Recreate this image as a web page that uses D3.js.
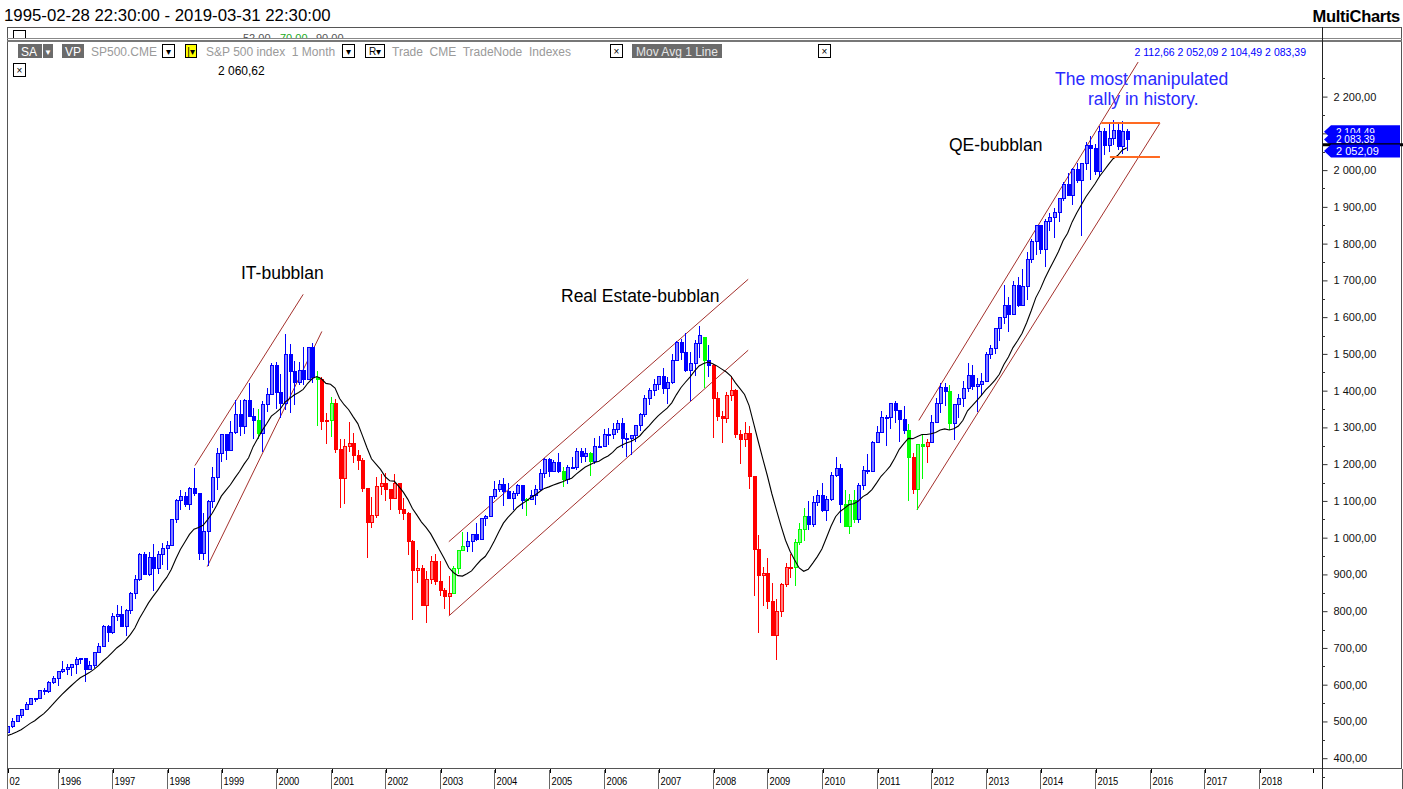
<!DOCTYPE html>
<html lang="en">
<head>
<meta charset="UTF-8">
<title>S&amp;P 500 index 1 Month</title>
<script src="https://cdnjs.cloudflare.com/ajax/libs/d3/7.8.5/d3.min.js"></script>
<style>
  body { margin: 0; background: #fff; }
  svg { display: block; font-family: "Liberation Sans", Arial, sans-serif; }
</style>
</head>
<body>
<svg width="1403" height="789" id="mainsvg"></svg>
<script>
// monthly bars, month index counted from 1996-01 (first bar 1995-02 = -11, last 2015-08 = 235)
const firstMonth = -11;
const opens = [
  470, 487, 501, 515, 533, 545, 562, 562, 584, 582, 605,
  616, 636, 640, 646, 654, 669, 671, 640, 652, 687, 705, 757,
  741, 786, 791, 757, 801, 848, 885, 954, 899, 947, 915, 955,
  970, 980, 1049, 1102, 1112, 1091, 1134, 1121, 957, 1017, 1099, 1164,
  1229, 1280, 1238, 1286, 1335, 1302, 1373, 1329, 1320, 1283, 1363, 1389,
  1469, 1394, 1366, 1499, 1452, 1421, 1455, 1431, 1518, 1437, 1429, 1315,
  1320, 1366, 1240, 1160, 1249, 1256, 1224, 1211, 1134, 1041, 1060, 1139,
  1148, 1130, 1107, 1147, 1077, 1067, 990, 912, 916, 815, 886, 936,
  880, 856, 841, 848, 917, 964, 975, 990, 1008, 996, 1051, 1058,
  1112, 1131, 1145, 1126, 1107, 1121, 1141, 1102, 1104, 1115, 1130, 1174,
  1212, 1181, 1204, 1181, 1157, 1192, 1191, 1234, 1220, 1229, 1207, 1249,
  1248, 1280, 1281, 1295, 1311, 1270, 1270, 1277, 1304, 1336, 1378, 1401,
  1418, 1438, 1407, 1421, 1482, 1531, 1503, 1455, 1474, 1527, 1545, 1481,
  1468, 1379, 1331, 1323, 1386, 1400, 1280, 1267, 1283, 1166, 969, 896,
  903, 826, 735, 798, 873, 919, 919, 987, 1021, 1057, 1036, 1096,
  1115, 1074, 1104, 1169, 1187, 1089, 1031, 1102, 1049, 1141, 1183, 1181,
  1258, 1286, 1327, 1326, 1364, 1345, 1321, 1292, 1219, 1131, 1253, 1247,
  1258, 1312, 1366, 1408, 1398, 1310, 1362, 1379, 1407, 1441, 1412, 1416,
  1426, 1498, 1515, 1569, 1598, 1631, 1606, 1686, 1633, 1682, 1757, 1806,
  1848, 1783, 1859, 1872, 1884, 1924, 1960, 1931, 2003, 1972, 2018, 2068,
  2059, 1995, 2105, 2068, 2086, 2107, 2063, 2104.49
];
const highs = [
  489, 508, 515, 534, 553, 564, 565, 586, 590, 609, 623,
  636, 664, 656, 656, 674, 673, 673, 665, 690, 714, 762, 762,
  795, 818, 814, 805, 851, 898, 957, 961, 961, 983, 964, 986,
  992, 1050, 1106, 1131, 1123, 1139, 1190, 1122, 1066, 1103, 1193, 1245,
  1280, 1282, 1317, 1375, 1375, 1376, 1421, 1353, 1351, 1373, 1407, 1474,
  1478, 1445, 1553, 1528, 1481, 1477, 1518, 1519, 1530, 1454, 1438, 1340,
  1383, 1377, 1268, 1269, 1316, 1286, 1239, 1218, 1134, 1111, 1164, 1173,
  1176, 1131, 1173, 1147, 1107, 1070, 994, 966, 925, 908, 951, 955,
  936, 864, 895, 924, 965, 1015, 1015, 1011, 1040, 1054, 1063, 1112,
  1155, 1158, 1163, 1150, 1127, 1146, 1141, 1109, 1131, 1142, 1188, 1217,
  1217, 1212, 1229, 1191, 1199, 1219, 1245, 1245, 1244, 1233, 1270, 1276,
  1295, 1298, 1311, 1319, 1326, 1284, 1280, 1306, 1340, 1389, 1407, 1432,
  1441, 1462, 1438, 1499, 1535, 1541, 1556, 1504, 1539, 1576, 1545, 1524,
  1472, 1396, 1344, 1397, 1440, 1405, 1292, 1314, 1304, 1168, 1007, 919,
  944, 876, 833, 877, 930, 956, 997, 1039, 1080, 1101, 1113, 1130,
  1150, 1113, 1180, 1220, 1200, 1131, 1120, 1130, 1149, 1196, 1228, 1263,
  1303, 1344, 1333, 1364, 1371, 1346, 1357, 1308, 1230, 1256, 1278, 1269,
  1334, 1379, 1420, 1422, 1416, 1364, 1392, 1426, 1475, 1471, 1434, 1448,
  1504, 1525, 1571, 1598, 1687, 1654, 1698, 1709, 1730, 1776, 1813, 1849,
  1850, 1867, 1884, 1897, 1925, 1968, 1991, 2006, 2019, 2018, 2076, 2093,
  2072, 2120, 2115, 2126, 2135, 2130, 2133, 2112.66
];
const lows = [
  469, 481, 500, 510, 532, 545, 553, 561, 573, 578, 602,
  597, 633, 627, 624, 630, 656, 606, 639, 645, 685, 702, 716,
  737, 773, 756, 733, 793, 832, 883, 898, 896, 855, 901, 926,
  912, 980, 1041, 1076, 1084, 1074, 1112, 940, 939, 923, 1082, 1129,
  1205, 1211, 1236, 1281, 1277, 1281, 1328, 1268, 1269, 1233, 1343, 1387,
  1350, 1326, 1346, 1339, 1362, 1415, 1416, 1431, 1421, 1305, 1294, 1254,
  1275, 1229, 1082, 1091, 1232, 1203, 1183, 1124, 945, 1026, 1054, 1115,
  1101, 1075, 1106, 1064, 1049, 952, 776, 877, 815, 769, 873, 872,
  841, 807, 789, 847, 902, 963, 962, 960, 990, 996, 1031, 1058,
  1106, 1124, 1087, 1107, 1076, 1113, 1079, 1060, 1102, 1090, 1128, 1163,
  1164, 1180, 1177, 1137, 1146, 1188, 1184, 1202, 1205, 1168, 1201, 1246,
  1246, 1253, 1268, 1284, 1245, 1219, 1225, 1260, 1291, 1327, 1360, 1386,
  1403, 1390, 1364, 1417, 1481, 1484, 1452, 1371, 1439, 1490, 1407, 1436,
  1270, 1317, 1257, 1312, 1373, 1272, 1200, 1248, 1133, 840, 741, 815,
  805, 735, 667, 784, 866, 889, 869, 979, 992, 1020, 1029, 1086,
  1071, 1045, 1101, 1165, 1041, 1029, 1011, 1040, 1040, 1131, 1174, 1181,
  1257, 1284, 1249, 1295, 1312, 1259, 1282, 1101, 1120, 1074, 1159, 1203,
  1258, 1312, 1340, 1357, 1292, 1267, 1326, 1355, 1397, 1403, 1343, 1385,
  1426, 1485, 1501, 1536, 1581, 1560, 1605, 1628, 1633, 1646, 1747, 1768,
  1771, 1737, 1834, 1815, 1860, 1915, 1930, 1905, 1964, 1821, 2001, 1973,
  1988, 1981, 2040, 2048, 2067, 2056, 2044, 2052.09
];
const closes = [
  487, 501, 515, 533, 545, 562, 562, 584, 582, 605, 616,
  636, 640, 646, 654, 669, 671, 640, 652, 687, 705, 757, 741,
  786, 791, 757, 801, 848, 885, 954, 899, 947, 915, 955, 970,
  980, 1049, 1102, 1112, 1091, 1134, 1121, 957, 1017, 1099, 1164, 1229,
  1280, 1238, 1286, 1335, 1302, 1373, 1329, 1320, 1283, 1363, 1389, 1469,
  1394, 1366, 1499, 1452, 1421, 1455, 1431, 1518, 1437, 1429, 1315, 1320,
  1366, 1240, 1160, 1249, 1256, 1224, 1211, 1134, 1041, 1060, 1139, 1148,
  1130, 1107, 1147, 1077, 1067, 990, 912, 916, 815, 886, 936, 880,
  856, 841, 848, 917, 964, 975, 990, 1008, 996, 1051, 1058, 1112,
  1131, 1145, 1126, 1107, 1121, 1141, 1102, 1104, 1115, 1130, 1174, 1212,
  1181, 1204, 1181, 1157, 1192, 1191, 1234, 1220, 1229, 1207, 1249, 1248,
  1280, 1281, 1295, 1311, 1270, 1270, 1277, 1304, 1336, 1378, 1401, 1418,
  1438, 1407, 1421, 1482, 1531, 1503, 1455, 1474, 1527, 1549, 1481, 1468,
  1379, 1331, 1323, 1386, 1400, 1280, 1267, 1283, 1166, 969, 896, 903,
  826, 735, 798, 873, 919, 919, 987, 1021, 1057, 1036, 1096, 1115,
  1074, 1104, 1169, 1187, 1089, 1031, 1102, 1049, 1141, 1183, 1181, 1258,
  1286, 1327, 1326, 1364, 1345, 1321, 1292, 1219, 1131, 1253, 1247, 1258,
  1312, 1366, 1408, 1398, 1310, 1362, 1379, 1407, 1441, 1412, 1416, 1426,
  1498, 1515, 1569, 1598, 1631, 1606, 1686, 1633, 1682, 1757, 1806, 1848,
  1783, 1859, 1872, 1884, 1924, 1960, 1931, 2003, 1972, 2018, 2068, 2059,
  1995, 2105, 2068, 2086, 2107, 2063, 2104, 2083.39
];
// closes 1994-03 .. 1995-01, only used to start the 12 month average
const warmupCloses = [446, 451, 457, 444, 458, 475, 463, 472, 454, 459, 470];
// bar colour state: b = blue, r = red, g = green
const trendCodes = [
  'bbbbbbbbbbb',
  'bbbbbbbbbbbb', 'bbbbbbbbbbbb', 'bbbbbbbbbbbb', 'bbbbbbbbgbbb',
  'bbbbbbbbbgrr', 'grrrrrrrrrrr', 'rrrrrrrrrrrr', 'rrrgggbbbbbb',
  'bbbbbbbgbbbb', 'bbbgbbbbbgbb', 'bbbbbbbbbbbb', 'bbbbbbbbbbgb',
  'rrrrrrrrrrrr', 'rrrrrrgggbbb', 'bbbbbgggbbbb', 'bbbbbbbgrggr',
  'bbbbgbbbbbbb', 'bbbbbbbbbbbb', 'bbbbbbbbbbbb', 'bbbbbbbb'
].join('');

const yearLabels = ['02', '1996', '1997', '1998', '1999', '2000', '2001', '2002', '2003', '2004',
  '2005', '2006', '2007', '2008', '2009', '2010', '2011', '2012', '2013', '2014', '2015',
  '2016', '2017', '2018'];
const priceTicks = [400, 500, 600, 700, 800, 900, 1000, 1100, 1200, 1300, 1400, 1500,
  1600, 1700, 1800, 1900, 2000, 2100, 2200];
const priceMinorTicks = [350, 450, 550, 650, 750, 850, 950, 1050, 1150, 1250, 1350, 1450,
  1550, 1650, 1750, 1850, 1950, 2050, 2150, 2250];

// channel lines: [month index, price] pairs
const channelLines = [
  [[30.2, 1196], [54.0, 1662]],
  [[32.9, 921], [58.1, 1561]],
  [[86.0, 989], [151.8, 1703]],
  [[86.0, 787], [151.8, 1510]],
  [[189.3, 1319], [237.5, 2294]],
  [[188.9, 1076], [242.3, 2128]]
];
const rangeLines = [
  [[229.4, 2128], [242.3, 2128]],
  [[231.3, 2036], [242.3, 2036]]
];
const axisMarkers = [2104.49, 2083.39, 2052.09];
const maLabel = '2 060,62';

const svg = d3.select('#mainsvg');
const W = 1403, H = 789;
const plot = { left: 7, right: 1322, top: 42, bottom: 769 };

const locale = d3.formatLocale({ decimal: ',', thousands: ' ', grouping: [3], currency: ['', ''] });
const fmt = locale.format(',.2f');

const xScale = d3.scaleLinear().domain([-11, 278]).range([7.45, 1322.4]);
const yScale = d3.scaleLinear().domain([370.6, 2354]).range([plot.bottom, 40]);

const colors = {
  b: { main: '#0000ff', light: '#8080ff' },
  r: { main: '#ff0000', light: '#ff8080' },
  g: { main: '#00ff00', light: '#80ff80' }
};

const bars = closes.map((c, k) => ({
  m: firstMonth + k, o: opens[k], h: highs[k], l: lows[k], c: c, t: trendCodes[k]
}));
const allCloses = warmupCloses.concat(closes);
const ma = closes.map((c, k) => ({ m: firstMonth + k, v: d3.mean(allCloses.slice(k, k + 12)) }));

// ---------- frame ----------
svg.append('rect').attr('width', W).attr('height', H).attr('fill', '#fff');
svg.append('text').attr('x', 4).attr('y', 21).attr('font-size', 16.8).attr('fill', '#000')
  .text('1995-02-28 22:30:00 - 2019-03-31 22:30:00');
svg.append('text').attr('x', 1400).attr('y', 22).attr('text-anchor', 'end')
  .attr('font-size', 16.5).attr('font-weight', 'bold').attr('letter-spacing', -0.3).text('MultiCharts');

const frame = svg.append('g').attr('fill', 'none');
frame.append('rect').attr('x', 7.5).attr('y', 27.5).attr('width', 1394).attr('height', 741)
  .attr('stroke', '#555');
frame.append('line').attr('x1', 7).attr('x2', 1402).attr('y1', 38.5).attr('y2', 38.5).attr('stroke', '#888');
frame.append('line').attr('x1', 7).attr('x2', 1402).attr('y1', 41).attr('y2', 41).attr('stroke', '#777').attr('stroke-width', 2);
frame.append('line').attr('x1', 1322.5).attr('x2', 1322.5).attr('y1', 27).attr('y2', 789).attr('stroke', '#222');
frame.append('line').attr('x1', 7.5).attr('x2', 7.5).attr('y1', 769).attr('y2', 789).attr('stroke', '#555');
frame.append('line').attr('x1', 1402.5).attr('x2', 1402.5).attr('y1', 769).attr('y2', 789).attr('stroke', '#555');

// sliver of the sub pane above
const sub = svg.append('g');
sub.append('clipPath').attr('id', 'subclip').append('rect')
  .attr('x', 8).attr('y', 28).attr('width', 1314).attr('height', 10);
const subg = sub.append('g').attr('clip-path', 'url(#subclip)').attr('font-size', 11);
subg.append('rect').attr('x', 13.5).attr('y', 30.5).attr('width', 12).attr('height', 12)
  .attr('fill', '#fff').attr('stroke', '#000');
subg.append('text').attr('x', 243).attr('y', 42).attr('fill', '#555').text('52,00');
subg.append('text').attr('x', 280).attr('y', 42).attr('fill', '#2a2').text('70,00');
subg.append('text').attr('x', 316).attr('y', 42).attr('fill', '#555').text('90,00');

// ---------- status line ----------
const st = svg.append('g').attr('font-size', 12);
function darkBox(x, w, label) {
  st.append('rect').attr('x', x).attr('y', 44).attr('width', w).attr('height', 14).attr('fill', '#6b6b6b');
  st.append('text').attr('x', x + 3).attr('y', 55.5).attr('fill', '#fff').text(label);
}
function whiteBox(x, w, label) {
  st.append('rect').attr('x', x + 0.5).attr('y', 44.5).attr('width', w).attr('height', 13)
    .attr('fill', '#fff').attr('stroke', '#000');
  st.append('text').attr('x', x + w / 2 + 0.5).attr('y', 55).attr('text-anchor', 'middle')
    .attr('font-size', 10).attr('fill', '#000').text(label);
}
darkBox(18, 24, 'SA');
st.append('rect').attr('x', 43).attr('y', 44).attr('width', 10).attr('height', 14).attr('fill', '#6b6b6b');
st.append('text').attr('x', 48).attr('y', 55).attr('text-anchor', 'middle').attr('font-size', 8).attr('fill', '#fff').text('▼');
darkBox(62, 22, 'VP');
st.append('text').attr('x', 91).attr('y', 55.5).attr('fill', '#9a9a9a').text('SP500.CME');
whiteBox(162, 12, '▾');
st.append('rect').attr('x', 185.5).attr('y', 44.5).attr('width', 11).attr('height', 13)
  .attr('fill', '#ffff00').attr('stroke', '#000');
st.append('text').attr('x', 191).attr('y', 55).attr('text-anchor', 'middle').attr('font-size', 10).text('|▾');
st.append('text').attr('x', 206).attr('y', 55.5).attr('fill', '#9a9a9a').attr('xml:space', 'preserve')
  .text('S&P 500 index  1 Month');
whiteBox(342, 12, '▾');
whiteBox(365, 19, 'R▾');
st.append('text').attr('x', 392).attr('y', 55.5).attr('fill', '#9a9a9a').attr('xml:space', 'preserve')
  .text('Trade  CME  TradeNode  Indexes');
whiteBox(610, 12, '×');
st.append('rect').attr('x', 632).attr('y', 44).attr('width', 90).attr('height', 14).attr('fill', '#6b6b6b');
st.append('text').attr('x', 636).attr('y', 55.5).attr('fill', '#e6e6e6').text('Mov Avg 1 Line');
whiteBox(818, 12, '×');
const last = bars[bars.length - 1];
st.append('text').attr('x', 1306).attr('y', 55.5).attr('text-anchor', 'end').attr('fill', '#0000ff')
  .attr('font-size', 10.5)
  .text([last.h, last.l, last.o, last.c].map(fmt).join(' '));
// second row
st.append('rect').attr('x', 13.5).attr('y', 63.5).attr('width', 12).attr('height', 13)
  .attr('fill', '#fff').attr('stroke', '#000');
st.append('text').attr('x', 19.5).attr('y', 74).attr('text-anchor', 'middle').attr('font-size', 10).text('×');
st.append('text').attr('x', 218).attr('y', 75).attr('fill', '#000').text(maLabel);

// ---------- plot ----------
svg.append('clipPath').attr('id', 'plotclip').append('rect')
  .attr('x', plot.left + 1).attr('y', plot.top).attr('width', plot.right - plot.left - 1)
  .attr('height', plot.bottom - plot.top);
const g = svg.append('g').attr('clip-path', 'url(#plotclip)');

// channel lines
g.selectAll('.channel').data(channelLines).join('line')
  .attr('class', 'channel')
  .attr('x1', d => xScale(d[0][0])).attr('y1', d => yScale(d[0][1]))
  .attr('x2', d => xScale(d[1][0])).attr('y2', d => yScale(d[1][1]))
  .attr('stroke', '#a3302c').attr('stroke-width', 1);

// candles
const cg = g.append('g').attr('shape-rendering', 'crispEdges');
const candle = cg.selectAll('.bar').data(bars).join('g').attr('class', 'bar');
candle.append('line')
  .attr('x1', d => Math.round(xScale(d.m)) + 0.5).attr('x2', d => Math.round(xScale(d.m)) + 0.5)
  .attr('y1', d => yScale(d.h)).attr('y2', d => yScale(d.l))
  .attr('stroke', d => colors[d.t].main);
candle.append('rect')
  .attr('x', d => Math.round(xScale(d.m)) - 1)
  .attr('y', d => yScale(Math.max(d.o, d.c)))
  .attr('width', 3)
  .attr('height', d => Math.max(1, Math.abs(yScale(d.o) - yScale(d.c))))
  .attr('fill', d => d.c >= d.o ? colors[d.t].light : colors[d.t].main)
  .attr('stroke', d => colors[d.t].main).attr('stroke-width', 1);

// moving average
g.append('path').datum(ma)
  .attr('d', d3.line().x(d => xScale(d.m)).y(d => yScale(d.v)))
  .attr('fill', 'none').attr('stroke', '#000').attr('stroke-width', 1.1);

// range lines
g.selectAll('.range').data(rangeLines).join('line')
  .attr('class', 'range')
  .attr('x1', d => xScale(d[0][0])).attr('y1', d => yScale(d[0][1]))
  .attr('x2', d => xScale(d[1][0])).attr('y2', d => yScale(d[1][1]))
  .attr('stroke', '#ff6a22').attr('stroke-width', 2);

// annotations
const ann = svg.append('g').attr('font-size', 17.5);
ann.append('text').attr('x', 241).attr('y', 279).text('IT-bubblan');
ann.append('text').attr('x', 561).attr('y', 302).text('Real Estate-bubblan');
ann.append('text').attr('x', 949).attr('y', 151).text('QE-bubblan');
ann.append('text').attr('x', 1055).attr('y', 85).attr('fill', '#2a2aff').text('The most manipulated');
ann.append('text').attr('x', 1088).attr('y', 105).attr('fill', '#2a2aff').text('rally in history.');

// ---------- price axis ----------
const yAxis = d3.axisRight(yScale).tickValues(priceTicks).tickSize(5).tickPadding(6).tickFormat(fmt);
const ya = svg.append('g').attr('transform', `translate(${plot.right + 0.5},0)`).call(yAxis);
ya.select('.domain').remove();
ya.selectAll('text').attr('font-size', 11).attr('fill', '#111').attr('font-family', '"Liberation Sans", Arial, sans-serif');
ya.selectAll('line').attr('stroke', '#333');
svg.append('g').selectAll('line').data(priceMinorTicks).join('line')
  .attr('x1', plot.right).attr('x2', plot.right + 3)
  .attr('y1', d => Math.round(yScale(d)) + 0.5).attr('y2', d => Math.round(yScale(d)) + 0.5)
  .attr('stroke', '#333');

// markers on the price axis (they overlap in the original too)
const mk = svg.append('g').attr('font-size', 11);
function marker(v, fs) {
  const y = yScale(v);
  mk.append('path')
    .attr('d', `M1324,${y} L1331,${y - 6.5} L1400,${y - 6.5} L1400,${y + 6.5} L1331,${y + 6.5} Z`)
    .attr('fill', '#0000ff');
  mk.append('text').attr('x', 1336).attr('y', y + 4).attr('font-size', fs).attr('fill', '#fff').text(fmt(v));
}
marker(axisMarkers[0], 10);
marker(axisMarkers[1], 10);
mk.append('line').attr('x1', 1323).attr('x2', 1403)
  .attr('y1', yScale(ma[ma.length - 1].v) - 3).attr('y2', yScale(ma[ma.length - 1].v) - 3)
  .attr('stroke', '#000').attr('stroke-width', 3);
marker(axisMarkers[2], 11);

// ---------- time axis ----------
const tickMonths = yearLabels.map(s => s.length === 2 ? firstMonth : (+s - 1996) * 12);
const xa = svg.append('g').attr('font-size', 11.5);
xa.selectAll('.sep').data(tickMonths).join('line')
  .attr('x1', d => Math.round(xScale(d)) + 0.5).attr('x2', d => Math.round(xScale(d)) + 0.5)
  .attr('y1', 770).attr('y2', 789).attr('stroke', '#666');
xa.selectAll('.tk').data(tickMonths).join('line')
  .attr('x1', d => Math.round(xScale(d)) + 1.5).attr('x2', d => Math.round(xScale(d)) + 1.5)
  .attr('y1', 769).attr('y2', 773).attr('stroke', '#000');
xa.selectAll('text').data(tickMonths).join('text')
  .attr('x', d => Math.round(xScale(d)) + 2.5).attr('y', 785)
  .attr('fill', '#000')
  .attr('textLength', (d, k) => yearLabels[k].length * 5.2)
  .attr('lengthAdjust', 'spacingAndGlyphs')
  .text((d, k) => yearLabels[k]);
xa.append('line').attr('x1', Math.round(xScale(276)) + 0.5).attr('x2', Math.round(xScale(276)) + 0.5)
  .attr('y1', 769).attr('y2', 773).attr('stroke', '#000');
</script>
</body>
</html>
